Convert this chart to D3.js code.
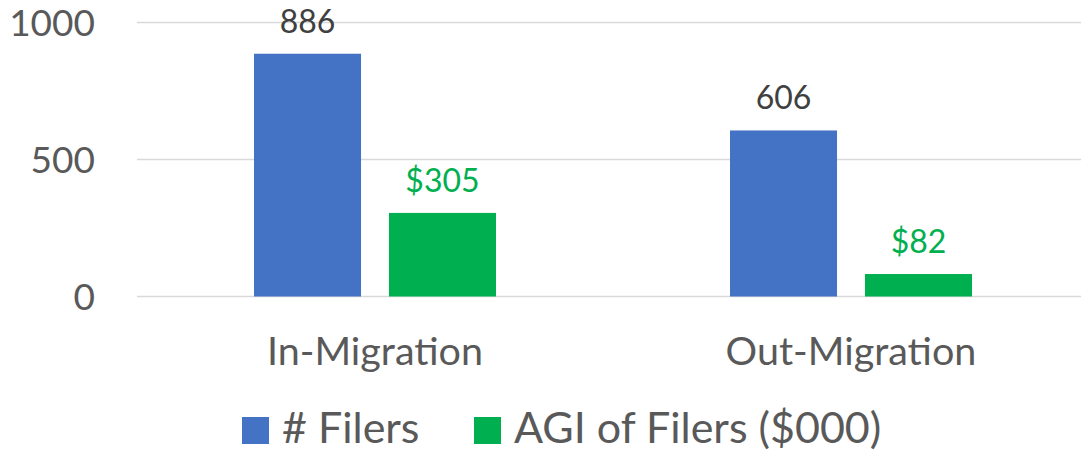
<!DOCTYPE html>
<html>
<head>
<meta charset="utf-8">
<script src="https://cdn.jsdelivr.net/npm/d3@7"></script>
<style>
  body { margin: 0; background: #fff; }
  text { font-family: Lato, "Open Sans", sans-serif; }
</style>
</head>
<body>
<div id="chart"></div>
<script>
// chart values
const categories = ['In-Migration', 'Out-Migration'];
const seriesNames = ['# Filers', 'AGI of Filers ($000)'];
const filers = [886, 606];
const agi = [305, 82];
const yTicks = [0, 500, 1000];

const width = 1081, height = 453;
const colors = ['#4472C4', '#00B050'];

const svg = d3.select('#chart')
  .append('svg')
  .attr('width', width)
  .attr('height', height);

const x = d3.scaleBand()
  .domain(categories)
  .range([137, 1089]);

// bars 107 wide with a 28px gap
const x1 = d3.scaleBand()
  .domain(seriesNames)
  .range([0, 242])
  .paddingInner(0.207);

const y = d3.scaleLinear()
  .domain([0, 1000])
  .range([296.5, 22.5]);

// gridlines
svg.append('g')
  .selectAll('line')
  .data(yTicks)
  .join('line')
  .attr('x1', 137)
  .attr('x2', width)
  .attr('y1', d => y(d))
  .attr('y2', d => y(d))
  .attr('stroke', '#d9d9d9')
  .attr('stroke-width', 1.5);

// y tick labels
svg.append('g')
  .selectAll('text')
  .data(yTicks)
  .join('text')
  .attr('x', 95)
  .attr('y', d => y(d) + 13)
  .attr('text-anchor', 'end')
  .attr('fill', '#595959')
  .style('font-size', '37px')
  .text(d => d);

const rows = categories.map((c, i) => ({cat: c, vals: [filers[i], agi[i]]}));

const groups = svg.append('g')
  .selectAll('g')
  .data(rows)
  .join('g')
  .attr('transform', d => `translate(${x(d.cat) + x.bandwidth() / 2 - 121},0)`);

groups.selectAll('rect')
  .data(d => d.vals.map((v, j) => ({name: seriesNames[j], v: v, j: j})))
  .join('rect')
  .attr('x', d => x1(d.name))
  .attr('width', x1.bandwidth())
  .attr('y', d => y(d.v))
  .attr('height', d => y(0) - y(d.v))
  .attr('fill', d => colors[d.j]);

// data labels
groups.selectAll('text')
  .data(d => d.vals.map((v, j) => ({name: seriesNames[j], v: v, j: j})))
  .join('text')
  .attr('x', d => x1(d.name) + x1.bandwidth() / 2)
  .attr('y', d => y(d.v) - 21)
  .attr('text-anchor', 'middle')
  .attr('fill', d => d.j == 0 ? '#404040' : '#00B050')
  .style('font-size', '32px')
  .text(d => d.j == 0 ? d.v : '$' + d.v);

// category labels
svg.append('g')
  .selectAll('text')
  .data(categories)
  .join('text')
  .attr('x', d => x(d) + x.bandwidth() / 2)
  .attr('y', 365)
  .attr('text-anchor', 'middle')
  .attr('fill', '#595959')
  .style('font-size', '39.5px')
  .text(d => d);

// legend
const legendX = [242, 474];
const legend = svg.append('g')
  .selectAll('g')
  .data(seriesNames)
  .join('g')
  .attr('transform', (d, i) => `translate(${legendX[i]},0)`);

legend.append('rect')
  .attr('x', 0)
  .attr('y', 417)
  .attr('width', 27)
  .attr('height', 27)
  .attr('fill', (d, i) => colors[i]);

legend.append('text')
  .attr('x', 40)
  .attr('y', 443)
  .attr('fill', '#595959')
  .style('font-size', '43px')
  .text(d => d);
</script>
</body>
</html>
